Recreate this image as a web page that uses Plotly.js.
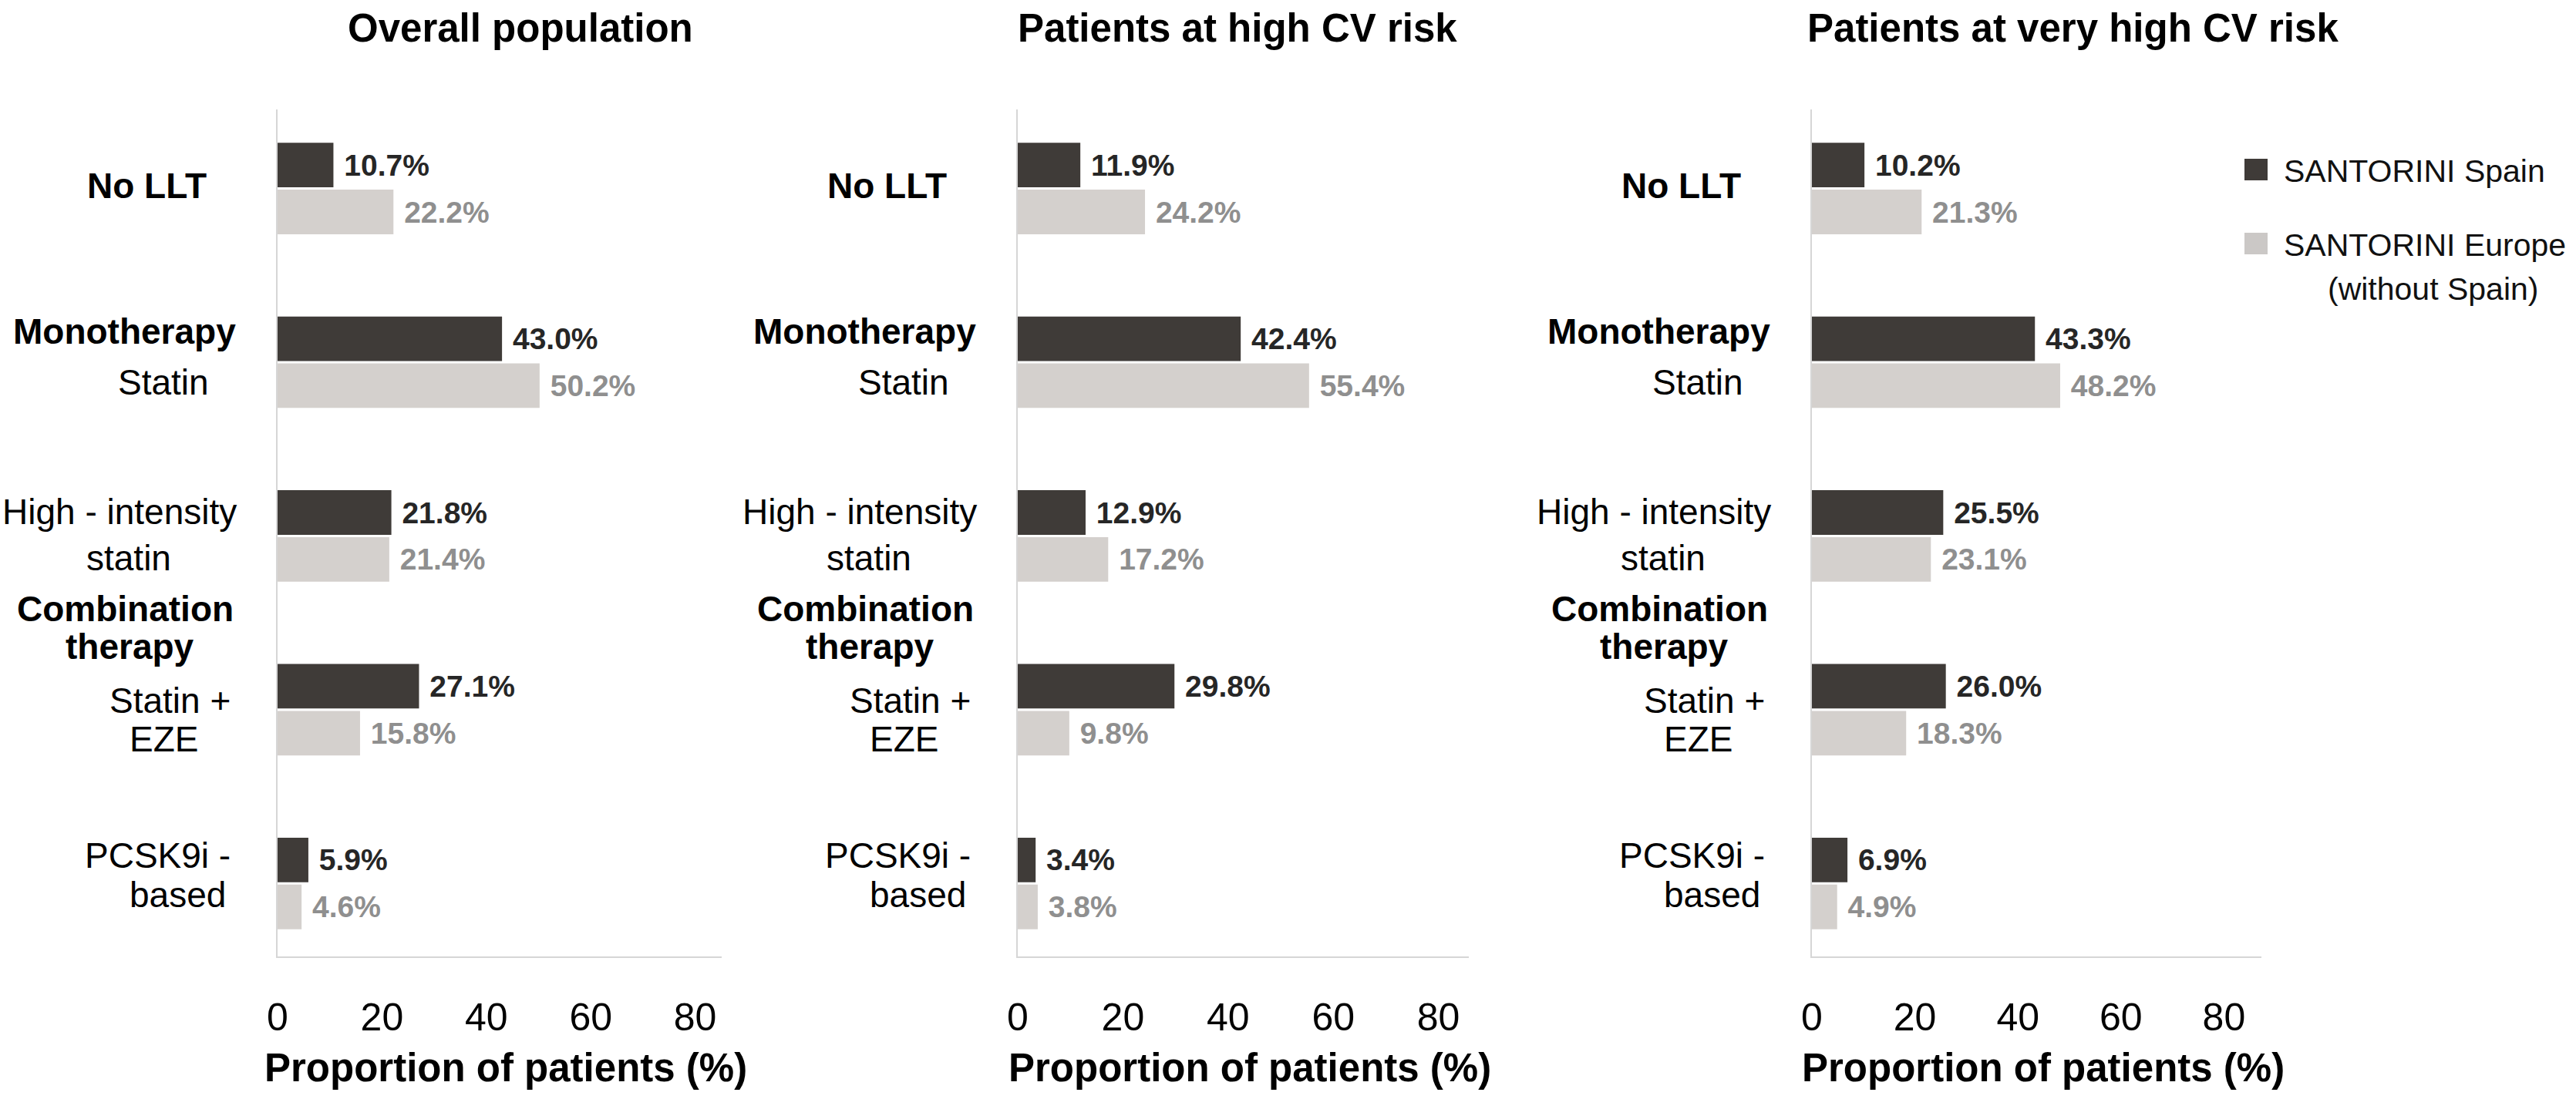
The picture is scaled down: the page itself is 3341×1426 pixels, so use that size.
<!DOCTYPE html>
<html>
<head>
<meta charset="utf-8">
<script src="https://cdn.plot.ly/plotly-3.0.1.min.js"></script>
<style>
  html, body { margin: 0; padding: 0; background: #ffffff; }
  #chart { width: 3341px; height: 1426px; }
</style>
</head>
<body>
<div id="chart"></div>
<script>
// ---------- data ----------
const panelTitles = ['Overall population', 'Patients at high CV risk', 'Patients at very high CV risk'];
const categories = ['No LLT', 'Statin', 'High-intensity statin', 'Statin + EZE', 'PCSK9i-based'];
const seriesNames = ['SANTORINI Spain', 'SANTORINI Europe (without Spain)'];

const spainOverall    = [10.7, 43.0, 21.8, 27.1, 5.9];
const europeOverall   = [22.2, 50.2, 21.4, 15.8, 4.6];
const spainHigh       = [11.9, 42.4, 12.9, 29.8, 3.4];
const europeHigh      = [24.2, 55.4, 17.2, 9.8, 3.8];
const spainVeryHigh   = [10.2, 43.3, 25.5, 26.0, 6.9];
const europeVeryHigh  = [21.3, 48.2, 23.1, 18.3, 4.9];

const xTickValues = [0, 20, 40, 60, 80];
const xAxisTitle = 'Proportion of patients (%)';

// displayed label lines left of each panel
const labelLines = ['<b>No LLT</b>', '<b>Monotherapy</b>', 'Statin', 'High - intensity', 'statin',
                    '<b>Combination</b>', '<b>therapy</b>', 'Statin +', 'EZE', 'PCSK9i -', 'based'];

// ---------- layout helpers ----------
const W = 3341, H = 1426;
const px = x => x / W;
const py = y => 1 - y / H;
const FONT = 'Liberation Sans, Arial, Helvetica, sans-serif';
const SPAIN_BAR = '#3f3b38';
const EUROPE_BAR = '#d4d0cd';
const SPAIN_TXT = '#262626';
const EUROPE_TXT = '#8f8f8f';
const AXIS_LINE = '#d6d6d6';

const panelSpain = [spainOverall, spainHigh, spainVeryHigh];
const panelEurope = [europeOverall, europeHigh, europeVeryHigh];
const axisLeft = [360, 1320, 2350];
const axisRight = [936, 1905, 2933];
const pxPerPct = [6.77, 6.82, 6.68];
const titleCenters = [675, 1605, 2688];
const yIdx = categories.map((c, i) => i);

const traces = [];
for (let p = 0; p < 3; p++) {
  const sfx = p === 0 ? '' : String(p + 1);
  [[panelSpain[p], SPAIN_BAR, SPAIN_TXT, 0], [panelEurope[p], EUROPE_BAR, EUROPE_TXT, 1]].forEach(([vals, bar, txt, s]) => {
    traces.push({
      type: 'bar',
      orientation: 'h',
      name: seriesNames[s],
      legendgroup: seriesNames[s],
      showlegend: false,
      x: vals,
      y: yIdx,
      xaxis: 'x' + sfx,
      yaxis: 'y' + sfx,
      marker: { color: bar, line: { width: 0 } },
      texttemplate: '\u00a0%{x:.1f}%',
      textposition: 'outside',
      constraintext: 'none',
      cliponaxis: false,
      outsidetextfont: { family: FONT, size: 39, color: txt, weight: 'bold' },
      hoverinfo: 'x+name'
    });
  });
}

const layout = {
  width: W, height: H,
  margin: { l: 0, r: 0, t: 0, b: 0 },
  paper_bgcolor: '#ffffff',
  plot_bgcolor: '#ffffff',
  barmode: 'group',
  bargap: 0.46,
  bargroupgap: 0.05,
  showlegend: false,
  font: { family: FONT, color: '#000000' },
  annotations: [],
  shapes: []
};

for (let p = 0; p < 3; p++) {
  const sfx = p === 0 ? '' : String(p + 1);
  const width = axisRight[p] - axisLeft[p];
  layout['xaxis' + sfx] = {
    domain: [px(axisLeft[p]), px(axisRight[p])],
    range: [0, width / pxPerPct[p]],
    anchor: 'y' + sfx,
    tickvals: xTickValues,
    ticktext: xTickValues.map(String),
    ticks: '',
    showgrid: false,
    zeroline: false,
    showline: true,
    linecolor: AXIS_LINE,
    linewidth: 2,
    ticklabelstandoff: 34,
    tickfont: { family: 'Liberation Sans Narrow, Arial Narrow, ' + FONT, size: 50, color: '#000' },
    fixedrange: true
  };
  layout['yaxis' + sfx] = {
    domain: [py(1241), py(142)],
    range: [4.42, -0.455],
    anchor: 'x' + sfx,
    showticklabels: false,
    ticks: '',
    showgrid: false,
    zeroline: false,
    showline: true,
    linecolor: AXIS_LINE,
    linewidth: 2,
    fixedrange: true
  };
  // panel title
  layout.annotations.push({
    xref: 'paper', yref: 'paper', x: px(titleCenters[p]), y: py(37),
    xanchor: 'center', yanchor: 'middle', showarrow: false,
    text: '<b>' + panelTitles[p] + '</b>',
    font: { family: FONT, size: 51, color: '#000' }
  });
  // x-axis title
  layout.annotations.push({
    xref: 'paper', yref: 'paper', x: px((axisLeft[p] + axisRight[p]) / 2 + 8), y: py(1385),
    xanchor: 'center', yanchor: 'middle', showarrow: false,
    text: '<b>' + xAxisTitle + '</b>',
    font: { family: FONT, size: 51, color: '#000' }
  });
  // category labels
  const offs = [-170, -199, -148, -205, -193, -198, -192, -140, -148, -156, -130];
  const ys   = [241, 430, 496, 664, 724, 790, 839, 909, 959, 1110, 1161];
  labelLines.forEach((t, i) => {
    layout.annotations.push({
      xref: 'paper', yref: 'paper', x: px(axisLeft[p] + offs[i]), y: py(ys[i]),
      xanchor: 'center', yanchor: 'middle', showarrow: false,
      text: t,
      font: { family: FONT, size: 46, color: '#000' }
    });
  });
}

// legend (custom, matching the large square keys)
const legendKeys = [
  { color: SPAIN_BAR, cy: 220, lines: [seriesNames[0]] },
  { color: '#cbc8c6', cy: 316, lines: ['SANTORINI Europe'] }
];
legendKeys.forEach(k => {
  layout.shapes.push({
    type: 'rect', xref: 'paper', yref: 'paper',
    x0: px(2911), x1: px(2941), y0: py(k.cy + 14), y1: py(k.cy - 14),
    fillcolor: k.color, line: { width: 0 }
  });
  layout.annotations.push({
    xref: 'paper', yref: 'paper', x: px(2960), y: py(k.cy + 2),
    xanchor: 'left', yanchor: 'middle', showarrow: false,
    text: k.lines[0],
    font: { family: FONT, size: 41, color: '#111' }
  });
});
layout.annotations.push({
  xref: 'paper', yref: 'paper', x: px(3155), y: py(375),
  xanchor: 'center', yanchor: 'middle', showarrow: false,
  text: '(without Spain)',
  font: { family: FONT, size: 41, color: '#111' }
});

Plotly.newPlot('chart', traces, layout, { displayModeBar: false, staticPlot: true });
</script>
</body>
</html>
